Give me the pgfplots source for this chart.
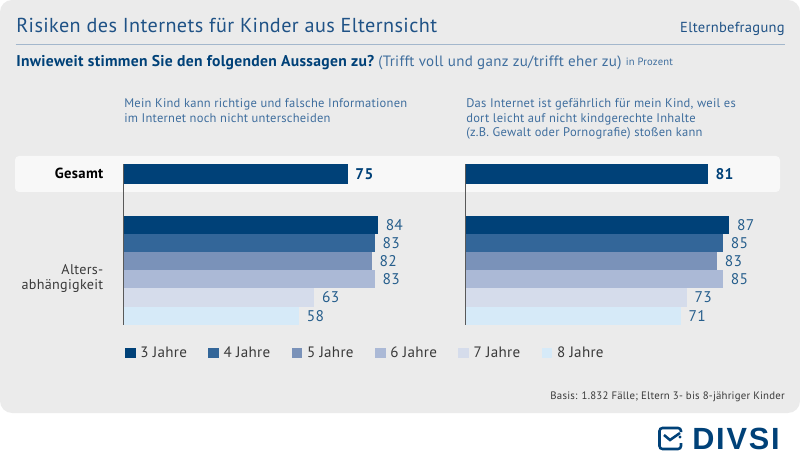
\documentclass[border=0pt]{standalone}
\usepackage{pgfplots}
\pgfplotsset{compat=1.18}
\usepackage{fontspec}
\setmainfont[LetterSpace=2]{PT Sans}
\newfontfamily\logofont[LetterSpace=6]{Liberation Sans}
\definecolor{panel}{HTML}{EBEBEB}
\definecolor{band}{HTML}{F8F8F8}
\definecolor{rulec}{HTML}{A3B7CC}
\definecolor{head}{HTML}{1F5286}
\definecolor{navy}{HTML}{004178}
\definecolor{stmt}{HTML}{3F6E9E}
\definecolor{grayt}{HTML}{3A3A3A}
\definecolor{ca}{HTML}{004178}
\definecolor{cb}{HTML}{336699}
\definecolor{cc}{HTML}{7A92B9}
\definecolor{cd}{HTML}{ABB9D6}
\definecolor{ce}{HTML}{D5DCEB}
\definecolor{cf}{HTML}{D6EAF8}
\newcommand{\fs}[1]{\fontsize{#1}{#1}\selectfont}
\newcommand{\lgt}[1]{\makebox[51pt][l]{#1}}
\pgfplotsset{
  age/.style={
    xbar, bar width=13.6pt, bar shift=0pt, scale only axis,
    width=227.25pt, height=120.3pt, xmin=0, xmax=100, ymin=-3.356, ymax=5.5,
    y dir=reverse, clip=false, enlargelimits=false,
    axis x line=none, axis y line=left, axis line style={-, draw=black!65, line width=0.6pt},
    ytick=\empty, xtick=\empty,
    nodes near coords, nodes near coords align={horizontal},
    /pgf/number format/assume math mode=true,
    every node near coord/.append style={font=\fs{11.6}, text=navy!85!white, inner sep=0pt, xshift=5.6pt},
  },
  total/.style={
    xbar, bar width=14.55pt, bar shift=0pt, scale only axis,
    width=224.25pt, height=14.55pt, xmin=0, xmax=100, ymin=-0.5, ymax=0.5,
    clip=false, enlargelimits=false, hide axis,
    nodes near coords, nodes near coords align={horizontal},
    /pgf/number format/assume math mode=true,
    every node near coord/.append style={font=\fs{11.6}\bfseries, text=navy, inner sep=0pt, xshift=5.6pt},
  },
}
\begin{document}
\begin{tikzpicture}[x=0.75pt,y=-0.75pt]
\path[use as bounding box] (0,0) rectangle (800,463);
\fill[panel,rounded corners=9pt] (0,0) rectangle (800,413);
\fill[band,rounded corners=3pt] (15,156) rectangle (780,192);
\draw[rulec,line width=0.75pt] (15.5,44.8) -- (785,44.8);
\node[anchor=base west,inner sep=0pt,text=head] at (16,32.5) {\fs{15.15}Risiken des Internets für Kinder aus Elternsicht};
\node[anchor=base east,inner sep=0pt,text=head] at (785,33) {\fs{10.9}Elternbefragung};
\node[anchor=base west,inner sep=0pt,text=navy] at (16,66.5) {\fs{11.7}\bfseries Inwieweit stimmen Sie den folgenden Aussagen zu?};
\node[anchor=base west,inner sep=0pt,text=stmt] at (378,66.5) {\fs{11.25}(Trifft voll und ganz zu/trifft eher zu)};
\node[anchor=base west,inner sep=0pt,text=stmt] at (625.5,66) {\fs{7.95}in Prozent};
\foreach \y/\t in {108/Mein Kind kann richtige und falsche Informationen,122.5/im Internet noch nicht unterscheiden}
  \node[anchor=base west,inner sep=0pt,text=stmt] at (124,\y) {\fs{9.4}\t};
\foreach \y/\t in {108/{Das Internet ist gefährlich für mein Kind, weil es},122.5/dort leicht auf nicht kindgerechte Inhalte,137/{(z.B. Gewalt oder Pornografie) stoßen kann}}
  \node[anchor=base west,inner sep=0pt,text=stmt] at (466,\y) {\fs{9.4}\t};
\node[anchor=base east,inner sep=0pt,text=black] at (103.5,179) {\fs{11}\bfseries Gesamt};
\node[anchor=base east,inner sep=0pt,text=grayt] at (103.5,275) {\fs{10.6}Alters-};
\node[anchor=base east,inner sep=0pt,text=grayt] at (103.5,289.5) {\fs{10.6}abhängigkeit};
\node[anchor=base east,inner sep=0pt,text=grayt] at (785,399.5) {\fs{8.1}Basis: 1.832 Fälle; Eltern 3- bis 8-jähriger Kinder};
% logo
\draw[navy,line width=1.9pt,rounded corners=2.2pt] (681,432) -- (681,428) -- (659.5,428) -- (659.5,449) -- (681,449) -- (681,443);
\draw[navy,line width=1.9pt] (664,435) -- (670,440) -- (680,433);
\fill[navy] (680,437) circle[radius=1.2pt];
\node[anchor=base west,inner sep=0pt,text=navy] at (692,449.5) {\logofont\fs{23}\bfseries DIVSI};
\coordinate (AL) at (123.5,324.7);
\coordinate (AR) at (465.7,324.7);
\coordinate (TL) at (123.5,183.7);
\coordinate (TR) at (465.7,183.7);
% left panel
\begin{axis}[at={(AL)},anchor=south west,age,
  legend columns=6,
  legend style={at={(axis description cs:0.005,-0.137)},anchor=north west,draw=none,fill=none,inner sep=0pt,outer sep=0pt,
    font=\fs{11.3},text=grayt,nodes={inner sep=0pt},
    /tikz/every odd column/.append style={column sep=3.5pt}},
  legend cell align=left,
  legend image code/.code={\fill[#1] (0pt,-4pt) rectangle (8pt,4pt);},
]
\addplot[ca,fill=ca,draw=none] coordinates {(84,0)};
\addplot[cb,fill=cb,draw=none] coordinates {(83,1)};
\addplot[cc,fill=cc,draw=none] coordinates {(82,2)};
\addplot[cd,fill=cd,draw=none] coordinates {(83,3)};
\addplot[ce,fill=ce,draw=none] coordinates {(63,4)};
\addplot[cf,fill=cf,draw=none] coordinates {(58,5)};
\legend{\lgt{3 Jahre},\lgt{4 Jahre},\lgt{5 Jahre},\lgt{6 Jahre},\lgt{7 Jahre},\lgt{8 Jahre}}
\end{axis}
% right panel
\begin{axis}[at={(AR)},anchor=south west,age]
\addplot[ca,fill=ca,draw=none] coordinates {(87,0)};
\addplot[cb,fill=cb,draw=none] coordinates {(85,1)};
\addplot[cc,fill=cc,draw=none] coordinates {(83,2)};
\addplot[cd,fill=cd,draw=none] coordinates {(85,3)};
\addplot[ce,fill=ce,draw=none] coordinates {(73,4)};
\addplot[cf,fill=cf,draw=none] coordinates {(71,5)};
\end{axis}
% Gesamt
\begin{axis}[at={(TL)},anchor=south west,total]
\addplot[ca,fill=ca,draw=none] coordinates {(75,0)};
\end{axis}
\begin{axis}[at={(TR)},anchor=south west,total]
\addplot[ca,fill=ca,draw=none] coordinates {(81,0)};
\end{axis}
\end{tikzpicture}
\end{document}
